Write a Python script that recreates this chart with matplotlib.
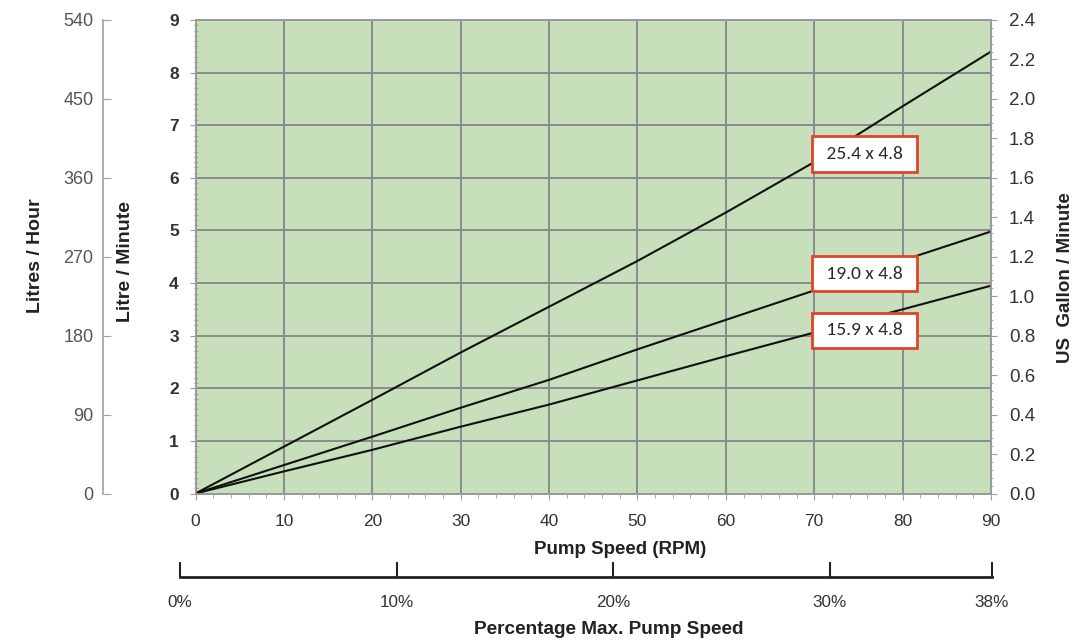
import matplotlib
matplotlib.use("Agg")
import matplotlib.pyplot as plt
from matplotlib import font_manager
from matplotlib.ticker import MultipleLocator, FormatStrFormatter

# ---------------- data ----------------
rpm = [0, 10, 20, 30, 40, 50, 60, 70, 80, 90]
flow_254 = [0, 0.89, 1.78, 2.68, 3.55, 4.42, 5.34, 6.30, 7.36, 8.40]
flow_190 = [0, 0.54, 1.08, 1.63, 2.16, 2.74, 3.30, 3.86, 4.43, 4.98]
flow_159 = [0, 0.42, 0.83, 1.27, 1.69, 2.15, 2.61, 3.06, 3.50, 3.95]
series_labels = ["25.4 x 4.8", "19.0 x 4.8", "15.9 x 4.8"]
label_x = [75.7, 75.7, 75.7]
label_y = [6.45, 4.18, 3.10]

x_ticks = [0, 10, 20, 30, 40, 50, 60, 70, 80, 90]
lpm_ticks = [0, 1, 2, 3, 4, 5, 6, 7, 8, 9]
lph_ticks = [0, 90, 180, 270, 360, 450, 540]
gpm_ticks = [0.0, 0.2, 0.4, 0.6, 0.8, 1.0, 1.2, 1.4, 1.6, 1.8, 2.0, 2.2, 2.4]
pct_ticks = [0, 10, 20, 30, 37.5]
pct_labels = ["0%", "10%", "20%", "30%", "38%"]

# ---------------- fonts ----------------
avail = {f.name for f in font_manager.fontManager.ttflist}
sans = "Liberation Sans"
boxfont = "Carlito" if "Carlito" in avail else "Lato"
plt.rcParams["font.family"] = [sans, "DejaVu Sans"]

W, H = 1090, 640
fig = plt.figure(figsize=(W / 100, H / 100), dpi=100)

def fx(px):
    return px / W

def fy(py):
    return 1 - py / H

x0, x1 = 195.5, 991
y0, y1 = 493.5, 20
ax = fig.add_axes([fx(x0), fy(y0), fx(x1 - x0), (y0 - y1) / H])
ax.set_facecolor("#c8dfbc")
ax.set_xlim(0, 90)
ax.set_ylim(0, 9)
ax.set_xticks(x_ticks)
ax.set_yticks(lpm_ticks)
ax.xaxis.set_minor_locator(MultipleLocator(2))
ax.yaxis.set_minor_locator(MultipleLocator(0.1))
ax.grid(True, which="major", color="#8a8a8a", linewidth=1.4)
ax.set_axisbelow(True)
for s in ax.spines.values():
    s.set_color("#9a9a9a")
    s.set_linewidth(1.2)

ax.tick_params(axis="y", which="major", direction="out", length=4, color="#9a9a9a",
               pad=8, labelsize=12.5, labelcolor="#333333")
ax.tick_params(axis="y", which="minor", direction="inout", length=3, color="#9a9a9a")
ax.tick_params(axis="x", which="major", direction="out", length=4, color="#9a9a9a",
               pad=11, labelsize=12.5, labelcolor="#333333")
ax.tick_params(axis="x", which="minor", direction="out", length=3, color="#9a9a9a")
for lab in ax.get_yticklabels():
    lab.set_fontweight("bold")

for ys in (flow_254, flow_190, flow_159):
    ax.plot(rpm, ys, color="#111111", linewidth=1.5, zorder=3)

for t, lx, ly in zip(series_labels, label_x, label_y):
    ax.text(lx, ly, " " + t + " ", ha="center", va="center", fontsize=14, color="#2a2a2a",
            family=[boxfont, "DejaVu Sans"], zorder=5,
            bbox=dict(boxstyle="square,pad=0.5", facecolor="white",
                      edgecolor="#e0432c", linewidth=2))

# right axis (US gallons)
axr = ax.twinx()
axr.set_ylim(0, 2.4)
axr.set_yticks(gpm_ticks)
axr.yaxis.set_major_formatter(FormatStrFormatter("%.1f"))
axr.yaxis.set_minor_locator(MultipleLocator(0.04))
axr.tick_params(axis="y", which="major", direction="out", length=4, color="#9a9a9a",
                pad=9, labelsize=13.5, labelcolor="#333333")
axr.tick_params(axis="y", which="minor", direction="inout", length=3, color="#9a9a9a")
for s in axr.spines.values():
    s.set_color("#9a9a9a")
    s.set_linewidth(1.2)

# litres/hour axis
axl = fig.add_axes([fx(103), fy(y0), 0.0005, (y0 - y1) / H])
axl.patch.set_visible(False)
axl.set_ylim(0, 540)
axl.set_yticks(lph_ticks)
axl.set_xticks([])
for k in ("top", "right", "bottom"):
    axl.spines[k].set_visible(False)
axl.spines["left"].set_color("#a0a0a0")
axl.spines["left"].set_linewidth(1.2)
axl.tick_params(axis="y", direction="in", length=6, color="#a0a0a0", pad=7,
                labelsize=13, labelcolor="#555555")

# percentage axis
axp = fig.add_axes([fx(180), fy(577), fx(992 - 180), 0.0005])
axp.patch.set_visible(False)
axp.set_xlim(0, 37.5)
axp.set_yticks([])
axp.set_xticks(pct_ticks)
axp.set_xticklabels(pct_labels)
for k in ("top", "right", "left"):
    axp.spines[k].set_visible(False)
axp.spines["bottom"].set_linewidth(2)
axp.spines["bottom"].set_color("#222222")
axp.tick_params(axis="x", direction="in", length=11, width=1.5, color="#222222",
                pad=13, labelsize=12.3, labelcolor="#333333")

# axis titles
tkw = dict(ha="center", va="center", fontweight="bold", color="#222222")
fig.text(fx(35), fy(256), "Litres / Hour", rotation=90, fontsize=14, **tkw)
fig.text(fx(125), fy(262), "Litre / Minute", rotation=90, fontsize=14, **tkw)
fig.text(fx(1066), fy(278), "US  Gallon / Minute", rotation=90, fontsize=13.5, **tkw)
fig.text(fx(620), fy(549), "Pump Speed (RPM)", fontsize=13.5, **tkw)
fig.text(fx(609), fy(629), "Percentage Max. Pump Speed", fontsize=13.7, **tkw)

fig.savefig("out.png", dpi=100)
